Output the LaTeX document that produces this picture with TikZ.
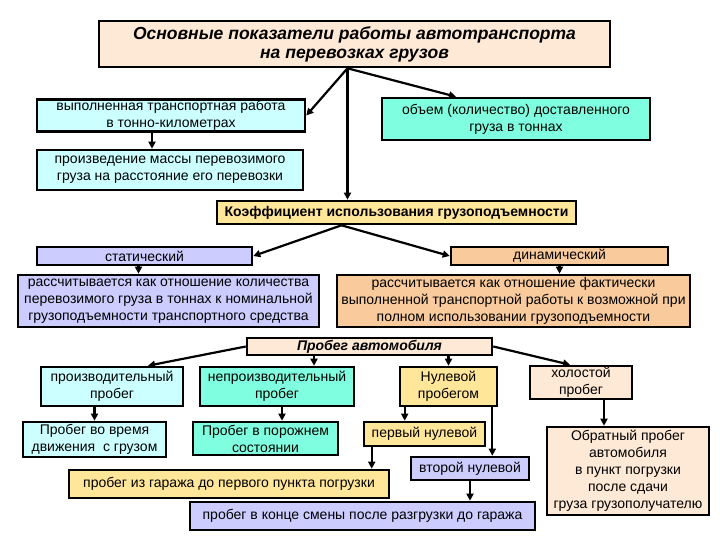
\documentclass[tikz,border=0pt]{standalone}
\usepackage{fontspec}
\setmainfont{Liberation Sans}
\usetikzlibrary{positioning,arrows.meta,calc}
\definecolor{bxcyan}{HTML}{CCFFFF}
\definecolor{bxaqua}{HTML}{80FFE0}
\definecolor{bxgold}{HTML}{FFE699}
\definecolor{bxlav}{HTML}{CCCCFF}
\definecolor{bxpeach}{HTML}{F9CB9C}
\definecolor{bxpale}{HTML}{FDE9D5}

\begin{document}
\begin{tikzpicture}[x=1pt,y=-1pt,
  bx/.style={rectangle,draw,line width=2.6pt,align=center,inner sep=1pt,font=\fontsize{14}{17}\selectfont},
  arr/.style={-{Triangle[length=7pt,width=7pt]},line width=2.2pt}]
  \useasboundingbox (0,0) rectangle (720,540);
  % top level
  \node[bx,fill=bxpale,minimum width=511,minimum height=46,font=\fontsize{17.5}{19}\selectfont\bfseries\itshape] (title) at (354.5,44) {Основные показатели работы автотранспорта\\на перевозках грузов};
  \node[bx,fill=bxcyan,minimum width=268,minimum height=31] (tkm) at (171,115.5) {выполненная транспортная работа\\в тонно-километрах};
  \node[bx,fill=bxcyan,minimum width=266,minimum height=40] (mass) at (170,170) {произведение массы перевозимого\\груза на расстояние его перевозки};
  \node[bx,fill=bxaqua,minimum width=268,minimum height=42] (vol) at (516,119) {объем (количество) доставленного\\груза в тоннах};
  \node[bx,fill=bxgold,minimum width=359,minimum height=23,font=\fontsize{14}{16}\selectfont\bfseries] (koef) at (396.5,212.5) {Коэффициент использования грузоподъемности};
  % load factor
  \node[bx,fill=bxlav,minimum width=215,minimum height=18] (stat) at (144.5,256) {статический};
  \node[bx,fill=bxpeach,minimum width=217,minimum height=18] (dyn) at (559.5,256) {динамический};
  \node[bx,fill=bxlav,minimum width=301,minimum height=52] (stxt) at (168.5,301) {рассчитывается как отношение количества\\перевозимого груза в тоннах к номинальной\\грузоподъемности транспортного средства};
  \node[bx,fill=bxpeach,minimum width=353,minimum height=52] (dtxt) at (513.5,301) {рассчитывается как отношение фактически\\выполненной транспортной работы к возможной при\\полном использовании грузоподъемности};
  % mileage
  \node[bx,fill=bxpale,minimum width=245,minimum height=17,font=\fontsize{14}{16}\selectfont\bfseries\itshape] (run) at (369.5,346.5) {Пробег автомобиля};
  \node[bx,fill=bxcyan,minimum width=142,minimum height=39] (prodrun) at (112,386.5) {производительный\\пробег};
  \node[bx,fill=bxaqua,minimum width=154,minimum height=39] (unprod) at (277,386.5) {непроизводительный\\пробег};
  \node[bx,fill=bxgold,minimum width=97,minimum height=39] (zero) at (448.5,386.5) {Нулевой\\пробегом};
  \node[bx,fill=bxpale,minimum width=102,minimum height=33] (idle) at (581,382.5) {холостой\\пробег};
  \node[bx,fill=bxcyan,minimum width=143,minimum height=35] (cargo) at (94.5,439.5) {Пробег во время\\движения\ \ с грузом};
  \node[bx,fill=bxaqua,minimum width=145,minimum height=33] (empty) at (265.5,438.5) {Пробег в порожнем\\состоянии};
  \node[bx,fill=bxgold,minimum width=121,minimum height=24] (zeroa) at (424.5,434) {первый нулевой};
  \node[bx,fill=bxlav,minimum width=118,minimum height=23] (zerob) at (470,468.5) {второй нулевой};
  \node[bx,fill=bxpale,minimum width=162,minimum height=88] (back) at (628,471) {Обратный пробег\\автомобиля\\в пункт погрузки\\после сдачи\\груза грузополучателю};
  \node[bx,fill=bxgold,minimum width=320,minimum height=28] (garage) at (229,484) {пробег из гаража до первого пункта погрузки};
  \node[bx,fill=bxlav,minimum width=345,minimum height=28] (shift) at (362.5,516) {пробег в конце смены после разгрузки до гаража};
  % connector ends
  \coordinate (ts) at ([xshift=-7pt]title.south);
  \coordinate (vt) at ([xshift=-60pt]vol.north);
  \coordinate (tk) at ([xshift=-19pt]tkm.south);
  \coordinate (ks) at ([xshift=-55pt]koef.south);
  \coordinate (st) at ([xshift=-6pt]stat.south);
  \coordinate (pr) at ([xshift=36pt]prodrun.north);
  \coordinate (up) at ([xshift=37pt]unprod.north);
  \coordinate (id) at ([xshift=-11pt]idle.north);
  \coordinate (ue) at ([xshift=5pt]unprod.south);
  \coordinate (za) at ([xshift=6pt]zero.south west);
  \coordinate (zb) at ([xshift=-6pt]zero.south east);
  \coordinate (ib) at ([xshift=23pt]idle.south);
  \coordinate (zg) at ([xshift=9pt]zeroa.south west);
  % arrows
  \draw[arr] (ts) -- (tkm.east);
  \draw[arr] (ts) -- (ts |- koef.north);
  \draw[arr] (ts) -- (vt);
  \draw[arr] (tk) -- (tk |- mass.north);
  \draw[arr] (ks) -- (stat.east);
  \draw[arr] (ks) -- (dyn.west);
  \draw[arr] (st) -- (st |- stxt.north);
  \draw[arr] (dyn.south) -- (dyn.south |- dtxt.north);
  \draw[arr] (run.west) -- (pr);
  \draw[arr] (up |- run.south) -- (up);
  \draw[arr] (zero.north |- run.south) -- (zero.north);
  \draw[arr] (run.east) -- (id);
  \draw[arr] (cargo.north |- prodrun.south) -- (cargo.north);
  \draw[arr] (ue) -- (ue |- empty.north);
  \draw[arr] (za) -- (za |- zeroa.north);
  \draw[arr] (zb) -- (zb |- zerob.north);
  \draw[arr] (ib) -- (ib |- back.north);
  \draw[arr] (zg) -- (zg |- garage.north);
  \draw[arr] (zerob.south) -- (zerob.south |- shift.north);
\end{tikzpicture}
\end{document}
